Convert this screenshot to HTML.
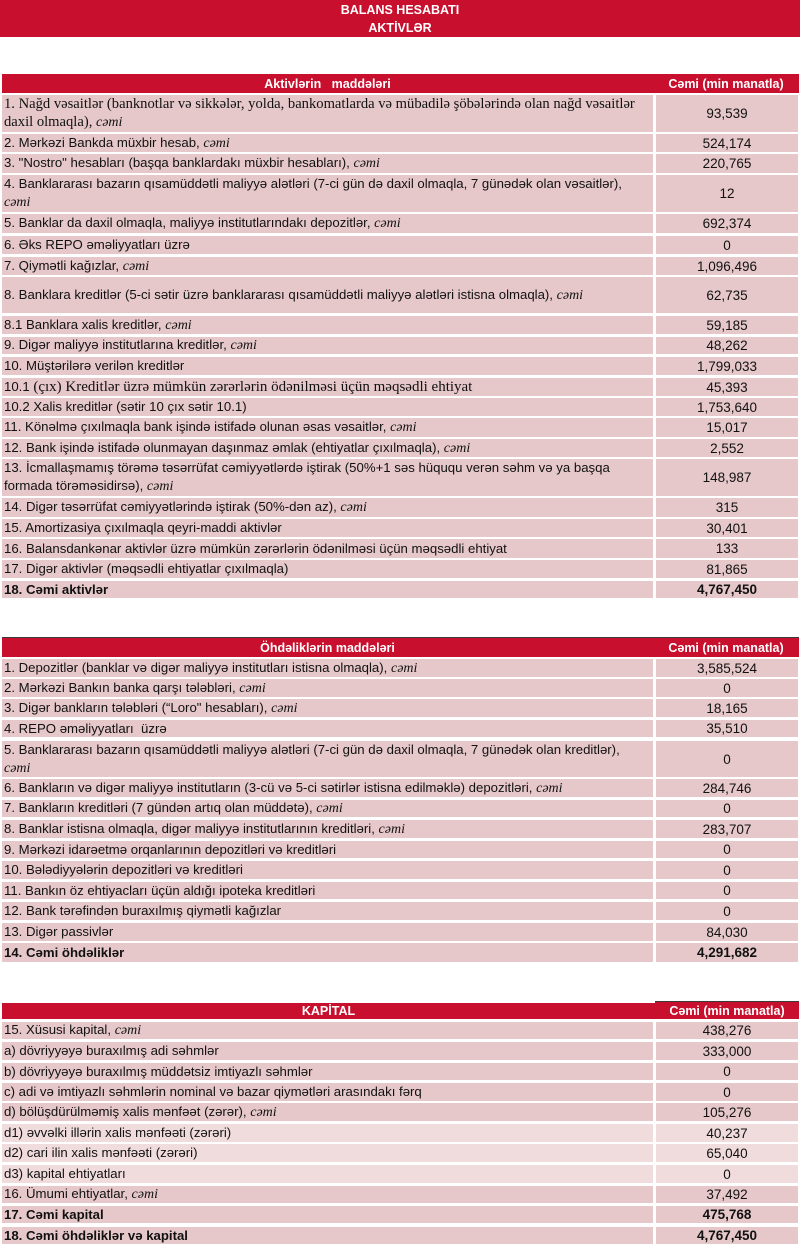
<!DOCTYPE html>
<html><head><meta charset="utf-8">
<style>
html,body{margin:0;padding:0;background:#fff;}
body{width:800px;height:1247px;position:relative;overflow:hidden;font-family:"Liberation Sans",sans-serif;}
.band{position:absolute;left:0;top:0;width:800px;height:37px;background:#c8102e;color:#fff;font-weight:bold;font-size:12.5px;text-align:center;}
.band div{position:absolute;left:0;width:800px;line-height:14px;}
.hdr{position:absolute;background:#c8102e;color:#fff;font-weight:bold;font-size:12.5px;display:flex;align-items:center;justify-content:center;white-space:nowrap;}
.r{position:absolute;left:2px;width:651px;background:#e6c8ca;font-size:13.2px;color:#111;display:flex;align-items:center;padding-left:2px;box-sizing:border-box;white-space:nowrap;line-height:18px;overflow:hidden;}
.v{position:absolute;left:656px;width:142px;background:#e6c8ca;font-size:13.5px;color:#111;display:flex;align-items:center;justify-content:center;white-space:nowrap;}
.l{background:#f1dcdd;}
.c{font-family:"Liberation Serif",serif;font-style:italic;font-size:14px;}
.s{font-family:"Liberation Serif",serif;font-size:14.6px;}
.s14{font-family:"Liberation Serif",serif;font-size:15px;}
.b{font-weight:bold;}
.line{position:absolute;height:1px;background:#3a3a3a;}
</style></head><body>

<div class="band"><div style="top:3px">BALANS HESABATI</div><div style="top:21px">AKTİVLƏR</div></div>

<!-- Table 1 -->
<div class="hdr" style="left:2px;top:74px;width:651px;height:19px;">Aktivlərin&nbsp;&nbsp; maddələri</div>
<div class="hdr" style="left:653px;top:74px;width:146px;height:19px;">Cəmi (min manatla)</div>

<div class="r s" style="top:95px;height:37px;"><span>1. Nağd vəsaitlər (banknotlar və sikkələr, yolda, bankomatlarda və mübadilə şöbələrində olan nağd vəsaitlər<br>daxil olmaqla), <span class="c">cəmi</span></span></div>
<div class="v" style="top:95px;height:37px;">93,539</div>

<div class="r" style="top:134px;height:18px;"><span>2. Mərkəzi Bankda müxbir hesab, <span class="c">cəmi</span></span></div>
<div class="v" style="top:134px;height:18px;">524,174</div>

<div class="r" style="top:154px;height:19px;"><span>3. "Nostro" hesabları (başqa banklardakı müxbir hesabları), <span class="c">cəmi</span></span></div>
<div class="v" style="top:154px;height:19px;">220,765</div>

<div class="r" style="top:175px;height:37px;"><span>4. Banklararası bazarın qısamüddətli maliyyə alətləri (7-ci gün də daxil olmaqla, 7 günədək olan vəsaitlər),<br><span class="c">cəmi</span></span></div>
<div class="v" style="top:175px;height:37px;">12</div>

<div class="r" style="top:214px;height:19px;"><span>5. Banklar da daxil olmaqla, maliyyə institutlarındakı depozitlər, <span class="c">cəmi</span></span></div>
<div class="v" style="top:214px;height:19px;">692,374</div>

<div class="r" style="top:236px;height:18px;"><span>6. Əks REPO əməliyyatları üzrə</span></div>
<div class="v" style="top:236px;height:18px;">0</div>

<div class="r" style="top:257px;height:18px;"><span>7. Qiymətli kağızlar, <span class="c">cəmi</span></span></div>
<div class="v" style="top:257px;height:18px;">1,096,496</div>

<div class="r" style="top:277px;height:36px;"><span>8. Banklara kreditlər (5-ci sətir üzrə banklararası qısamüddətli maliyyə alətləri istisna olmaqla), <span class="c">cəmi</span></span></div>
<div class="v" style="top:277px;height:36px;">62,735</div>

<div class="r" style="top:316px;height:18px;"><span>8.1 Banklara xalis kreditlər, <span class="c">cəmi</span></span></div>
<div class="v" style="top:316px;height:18px;">59,185</div>

<div class="r" style="top:337px;height:17px;"><span>9. Digər maliyyə institutlarına kreditlər, <span class="c">cəmi</span></span></div>
<div class="v" style="top:337px;height:17px;">48,262</div>

<div class="r" style="top:357px;height:18px;"><span>10. Müştərilərə verilən kreditlər</span></div>
<div class="v" style="top:357px;height:18px;">1,799,033</div>

<div class="r" style="top:378px;height:18px;"><span>10.1 <span class="s14">(çıx) Kreditlər üzrə mümkün zərərlərin ödənilməsi üçün məqsədli ehtiyat</span></span></div>
<div class="v" style="top:378px;height:18px;">45,393</div>

<div class="r" style="top:398px;height:18px;"><span>10.2 Xalis kreditlər (sətir 10 çıx sətir 10.1)</span></div>
<div class="v" style="top:398px;height:18px;">1,753,640</div>

<div class="r" style="top:418px;height:19px;"><span>11. Könəlmə çıxılmaqla bank işində istifadə olunan əsas vəsaitlər, <span class="c">cəmi</span></span></div>
<div class="v" style="top:418px;height:19px;">15,017</div>

<div class="r" style="top:439px;height:18px;"><span>12. Bank işində istifadə olunmayan daşınmaz əmlak (ehtiyatlar çıxılmaqla), <span class="c">cəmi</span></span></div>
<div class="v" style="top:439px;height:18px;">2,552</div>

<div class="r" style="top:459px;height:37px;"><span>13. İcmallaşmamış törəmə təsərrüfat cəmiyyətlərdə iştirak (50%+1 səs hüququ verən səhm və ya başqa<br>formada törəməsidirsə), <span class="c">cəmi</span></span></div>
<div class="v" style="top:459px;height:37px;">148,987</div>

<div class="r" style="top:498px;height:19px;"><span>14. Digər təsərrüfat cəmiyyətlərində iştirak (50%-dən az), <span class="c">cəmi</span></span></div>
<div class="v" style="top:498px;height:19px;">315</div>

<div class="r" style="top:519px;height:18px;"><span>15. Amortizasiya çıxılmaqla qeyri-maddi aktivlər</span></div>
<div class="v" style="top:519px;height:18px;">30,401</div>

<div class="r" style="top:539px;height:19px;"><span>16. Balansdankənar aktivlər üzrə mümkün zərərlərin ödənilməsi üçün məqsədli ehtiyat</span></div>
<div class="v" style="top:539px;height:19px;">133</div>

<div class="r" style="top:560px;height:18px;"><span>17. Digər aktivlər (məqsədli ehtiyatlar çıxılmaqla)</span></div>
<div class="v" style="top:560px;height:18px;">81,865</div>

<div class="r b" style="top:581px;height:17px;"><span>18. Cəmi aktivlər</span></div>
<div class="v b" style="top:581px;height:17px;">4,767,450</div>

<!-- Table 2 -->
<div class="line" style="left:2px;top:637px;width:797px;"></div>
<div class="hdr" style="left:2px;top:638px;width:651px;height:19px;">Öhdəliklərin maddələri</div>
<div class="hdr" style="left:653px;top:638px;width:146px;height:19px;">Cəmi (min manatla)</div>

<div class="r" style="top:659px;height:18px;"><span>1. Depozitlər (banklar və digər maliyyə institutları istisna olmaqla), <span class="c">cəmi</span></span></div>
<div class="v" style="top:659px;height:18px;">3,585,524</div>

<div class="r" style="top:679px;height:18px;"><span>2. Mərkəzi Bankın banka qarşı tələbləri, <span class="c">cəmi</span></span></div>
<div class="v" style="top:679px;height:18px;">0</div>

<div class="r" style="top:699px;height:18px;"><span>3. Digər bankların tələbləri (“Loro" hesabları), <span class="c">cəmi</span></span></div>
<div class="v" style="top:699px;height:18px;">18,165</div>

<div class="r" style="top:720px;height:17px;"><span>4. REPO əməliyyatları&nbsp; üzrə</span></div>
<div class="v" style="top:720px;height:17px;">35,510</div>

<div class="r" style="top:741px;height:36px;"><span>5. Banklararası bazarın qısamüddətli maliyyə alətləri (7-ci gün də daxil olmaqla, 7 günədək olan kreditlər),<br><span class="c">cəmi</span></span></div>
<div class="v" style="top:741px;height:36px;">0</div>

<div class="r" style="top:779px;height:18px;"><span>6. Bankların və digər maliyyə institutların (3-cü və 5-ci sətirlər istisna edilməklə) depozitləri, <span class="c">cəmi</span></span></div>
<div class="v" style="top:779px;height:18px;">284,746</div>

<div class="r" style="top:800px;height:17px;"><span>7. Bankların kreditləri (7 gündən artıq olan müddətə), <span class="c">cəmi</span></span></div>
<div class="v" style="top:800px;height:17px;">0</div>

<div class="r" style="top:820px;height:18px;"><span>8. Banklar istisna olmaqla, digər maliyyə institutlarının kreditləri, <span class="c">cəmi</span></span></div>
<div class="v" style="top:820px;height:18px;">283,707</div>

<div class="r" style="top:841px;height:17px;"><span>9. Mərkəzi idarəetmə orqanlarının depozitləri və kreditləri</span></div>
<div class="v" style="top:841px;height:17px;">0</div>

<div class="r" style="top:861px;height:18px;"><span>10. Bələdiyyələrin depozitləri və kreditləri</span></div>
<div class="v" style="top:861px;height:18px;">0</div>

<div class="r" style="top:882px;height:17px;"><span>11. Bankın öz ehtiyacları üçün aldığı ipoteka kreditləri</span></div>
<div class="v" style="top:882px;height:17px;">0</div>

<div class="r" style="top:902px;height:18px;"><span>12. Bank tərəfindən buraxılmış qiymətli kağızlar</span></div>
<div class="v" style="top:902px;height:18px;">0</div>

<div class="r" style="top:923px;height:18px;"><span>13. Digər passivlər</span></div>
<div class="v" style="top:923px;height:18px;">84,030</div>

<div class="r b" style="top:943px;height:19px;"><span>14. Cəmi öhdəliklər</span></div>
<div class="v b" style="top:943px;height:19px;">4,291,682</div>

<!-- Table 3 -->
<div class="line" style="left:655px;top:1001px;width:144px;"></div>
<div class="hdr" style="left:2px;top:1003px;width:653px;height:16px;">KAPİTAL</div>
<div class="hdr" style="left:655px;top:1002px;width:144px;height:17px;">Cəmi (min manatla)</div>

<div class="r" style="top:1022px;height:17px;"><span>15. Xüsusi kapital, <span class="c">cəmi</span></span></div>
<div class="v" style="top:1022px;height:17px;">438,276</div>

<div class="r" style="top:1042px;height:18px;"><span>a) dövriyyəyə buraxılmış adi səhmlər</span></div>
<div class="v" style="top:1042px;height:18px;">333,000</div>

<div class="r" style="top:1063px;height:17px;"><span>b) dövriyyəyə buraxılmış müddətsiz imtiyazlı səhmlər</span></div>
<div class="v" style="top:1063px;height:17px;">0</div>

<div class="r" style="top:1083px;height:18px;"><span>c) adi və imtiyazlı səhmlərin nominal və bazar qiymətləri arasındakı fərq</span></div>
<div class="v" style="top:1083px;height:18px;">0</div>

<div class="r" style="top:1103px;height:18px;"><span>d) bölüşdürülməmiş xalis mənfəət (zərər), <span class="c">cəmi</span></span></div>
<div class="v" style="top:1103px;height:18px;">105,276</div>

<div class="r l" style="top:1124px;height:18px;"><span>d1) əvvəlki illərin xalis mənfəəti (zərəri)</span></div>
<div class="v l" style="top:1124px;height:18px;">40,237</div>

<div class="r l" style="top:1144px;height:18px;"><span>d2) cari ilin xalis mənfəəti (zərəri)</span></div>
<div class="v l" style="top:1144px;height:18px;">65,040</div>

<div class="r l" style="top:1165px;height:18px;"><span>d3) kapital ehtiyatları</span></div>
<div class="v l" style="top:1165px;height:18px;">0</div>

<div class="r" style="top:1186px;height:17px;"><span>16. Ümumi ehtiyatlar, <span class="c">cəmi</span></span></div>
<div class="v" style="top:1186px;height:17px;">37,492</div>

<div class="r b" style="top:1206px;height:17px;"><span>17. Cəmi kapital</span></div>
<div class="v b" style="top:1206px;height:17px;">475,768</div>

<div class="r b" style="top:1227px;height:17px;"><span>18. Cəmi öhdəliklər və kapital</span></div>
<div class="v b" style="top:1227px;height:17px;">4,767,450</div>

</body></html>
